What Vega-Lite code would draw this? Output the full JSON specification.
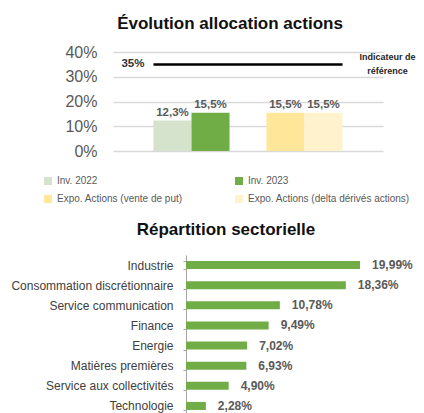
{
  "$schema": "https://vega.github.io/schema/vega-lite/v6.json",
  "padding": {"left": 10, "top": 15, "right": 0, "bottom": 0},
  "spacing": 62,
  "config": {
    "view": {"stroke": null},
    "font": "Liberation Sans",
    "locale": {"number": {"decimal": ",", "thousands": " ", "grouping": [3], "currency": ["", " €"]}},
    "title": {"fontSize": 17, "fontWeight": "bold", "color": "#111111", "font": "Liberation Sans"}
  },
  "vconcat": [
    {
      "width": 270,
      "height": 99,
      "title": {"text": "Évolution allocation actions", "anchor": "middle", "dx": -18, "offset": 11},
      "encoding": {
        "y": {"field": "value", "type": "quantitative",
              "scale": {"domain": [0, 0.4], "nice": false},
              "axis": {"format": ".0%", "values": [0, 0.1, 0.2, 0.3, 0.4], "title": null, "domain": false, "ticks": false, "grid": true,
                       "labelOverlap": false, "gridColor": "#d9d9d9", "gridWidth": 1.5, "labelFontSize": 16, "labelColor": "#595959", "labelPadding": 16}}
      },
      "layer": [
        {
          "data": {"values": [
            {"group": "Inv", "sub": "1", "series": "Inv. 2022", "value": 0.123},
            {"group": "Inv", "sub": "2", "series": "Inv. 2023", "value": 0.155},
            {"group": "Expo", "sub": "1", "series": "Expo. Actions (vente de put)", "value": 0.155},
            {"group": "Expo", "sub": "2", "series": "Expo. Actions (delta dérivés actions)", "value": 0.155}
          ]},
          "encoding": {
            "x": {"field": "group", "type": "nominal", "sort": null, "axis": null,
                  "scale": {"domain": ["Inv", "Expo"], "paddingInner": 0.327, "paddingOuter": 0.358}},
            "xOffset": {"field": "sub", "type": "nominal", "sort": null, "scale": {"paddingInner": 0, "paddingOuter": 0}}
          },
          "layer": [
            {
              "mark": {"type": "bar"},
              "encoding": {
                "color": {"field": "series", "type": "nominal", "sort": null,
                  "scale": {"domain": ["Inv. 2022", "Expo. Actions (vente de put)", "Inv. 2023", "Expo. Actions (delta dérivés actions)"],
                            "range": ["#d6e3cc", "#ffe699", "#70ad47", "#fff2cc"]},
                  "legend": {"title": null, "orient": "none", "legendX": -70, "legendY": 124, "columns": 2, "columnPadding": 51,
                             "rowPadding": 8, "symbolType": "square", "symbolSize": 64, "symbolStrokeWidth": 0,
                             "labelFontSize": 10, "labelColor": "#595959", "labelLimit": 300, "labelOffset": 4}}
              }
            },
            {
              "mark": {"type": "text", "baseline": "alphabetic", "dy": -5, "fontSize": 11.5, "fontWeight": "bold", "color": "#595959"},
              "encoding": {"text": {"field": "value", "type": "quantitative", "format": ".1%"}}
            }
          ]
        },
        {
          "data": {"values": [{"label": "Indicateur de\nréférence", "value": 0.35}]},
          "layer": [
            {
              "mark": {"type": "rule", "color": "#000000", "strokeWidth": 2.5},
              "encoding": {
                "x": {"datum": "Inv", "type": "nominal", "bandPosition": 0},
                "x2": {"datum": "Expo", "bandPosition": 1}
              }
            },
            {
              "mark": {"type": "text", "align": "right", "baseline": "middle", "dx": -9, "fontSize": 11.5, "fontWeight": "bold", "color": "#333333"},
              "encoding": {
                "x": {"datum": "Inv", "type": "nominal", "bandPosition": 0},
                "text": {"field": "value", "type": "quantitative", "format": ".0%"}
              }
            },
            {
              "mark": {"type": "text", "align": "center", "baseline": "middle", "dx": 45, "dy": -7, "lineBreak": "\n", "lineHeight": 14, "fontSize": 9, "fontWeight": "bold", "color": "#262626"},
              "encoding": {
                "x": {"datum": "Expo", "type": "nominal", "bandPosition": 1},
                "text": {"field": "label", "type": "nominal"}
              }
            }
          ]
        }
      ]
    },
    {
      "width": 270,
      "height": 161,
      "title": {"text": "Répartition sectorielle", "anchor": "middle", "dx": -22, "offset": 10},
      "data": {"values": [
        {"sector": "Industrie", "value": 0.1999},
        {"sector": "Consommation discrétionnaire", "value": 0.1836},
        {"sector": "Service communication", "value": 0.1078},
        {"sector": "Finance", "value": 0.0949},
        {"sector": "Energie", "value": 0.0702},
        {"sector": "Matières premières", "value": 0.0693},
        {"sector": "Service aux collectivités", "value": 0.049},
        {"sector": "Technologie", "value": 0.0228}
      ]},
      "encoding": {
        "y": {"field": "sector", "type": "nominal", "sort": null,
              "scale": {"paddingInner": 0.6, "paddingOuter": 0.3},
              "axis": {"title": null, "offset": -73, "domainColor": "#a6a6a6", "tickColor": "#a6a6a6", "tickSize": 3, "tickBand": "extent",
                       "labelFontSize": 12, "labelColor": "#404040", "labelPadding": 10, "labelLimit": 300, "grid": false}},
        "x": {"field": "value", "type": "quantitative", "axis": null,
              "scale": {"domain": [-0.0839, 0.2263], "nice": false, "zero": false}}
      },
      "layer": [
        {"mark": {"type": "bar", "color": "#70ad47"}},
        {"mark": {"type": "text", "align": "left", "baseline": "middle", "dx": 12, "fontSize": 12, "fontWeight": "bold", "color": "#595959"},
         "encoding": {"text": {"field": "value", "type": "quantitative", "format": ".2%"}}}
      ]
    }
  ]
}
